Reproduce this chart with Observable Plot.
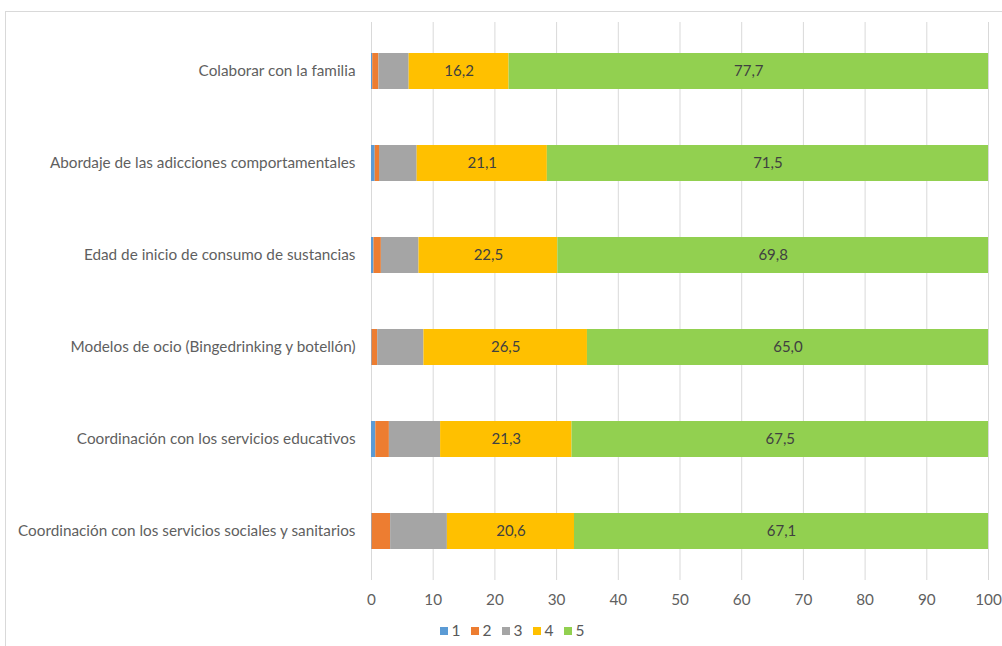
<!DOCTYPE html>
<html>
<head>
<meta charset="utf-8">
<script src="https://cdn.jsdelivr.net/npm/d3@7"></script>
<script src="https://cdn.jsdelivr.net/npm/@observablehq/plot@0.6"></script>
<style>
  html, body { margin: 0; padding: 0; background: #fff; }
  body { width: 1002px; height: 646px; position: relative; overflow: hidden; font-family: Lato, "Open Sans", sans-serif; }
  #frame { position: absolute; left: 5px; top: 11px; width: 1010px; height: 650px; border: 1px solid #d9d9d9; box-sizing: border-box; pointer-events: none; }
  #chart { position: absolute; left: 0; top: 0; }
  #legend { position: absolute; left: 0; top: 621px; width: 1002px; text-align: center; font-size: 15.5px; color: #595959; padding-left: 22px; box-sizing: border-box; }
  #legend span.item { display: inline-block; margin: 0 5px; }
  #legend span.sw { display: inline-block; width: 8px; height: 8px; margin-right: 4px; vertical-align: 1px; }
</style>
</head>
<body>
<div id="chart"></div>
<div id="legend"></div>
<div id="frame"></div>
<script>
const categories = [
  "Colaborar con la familia",
  "Abordaje de las adicciones comportamentales",
  "Edad de inicio de consumo de sustancias",
  "Modelos de ocio (Bingedrinking y botellón)",
  "Coordinación con los servicios educativos",
  "Coordinación con los servicios sociales y sanitarios"
];
const seriesNames = ["1", "2", "3", "4", "5"];
const v1 = [0.2, 0.6, 0.4, 0.1, 0.7, 0.1];
const v2 = [1.0, 0.7, 1.2, 0.9, 2.2, 3.0];
const v3 = [4.9, 6.1, 6.1, 7.5, 8.3, 9.2];
const v4 = [16.2, 21.1, 22.5, 26.5, 21.3, 20.6];
const v5 = [77.7, 71.5, 69.8, 65.0, 67.5, 67.1];
const xTicks = [0, 10, 20, 30, 40, 50, 60, 70, 80, 90, 100];
const colors = ["#5b9bd5", "#ed7d31", "#a5a5a5", "#ffc000", "#92d050"];

const seriesValues = [v1, v2, v3, v4, v5];
const data = [];
seriesNames.forEach((s, si) => {
  categories.forEach((c, ci) => {
    data.push({cat: c, series: s, value: seriesValues[si][ci]});
  });
});
const fmt = v => v.toFixed(1).replace(".", ",");

const plot = Plot.plot({
  width: 1002,
  height: 620,
  marginLeft: 371,
  marginRight: 14,
  marginTop: 22,
  marginBottom: 40,
  style: {fontFamily: "Lato, 'Open Sans', sans-serif", fontSize: "15.3px", color: "#5f5f5f", background: "transparent"},
  x: {domain: [0, 100], ticks: xTicks, label: null},
  y: {domain: categories, label: null, paddingInner: 0.61, paddingOuter: 0.32},
  color: {domain: seriesNames, range: colors},
  marks: [
    Plot.gridX(xTicks, {stroke: "#d9d9d9", strokeOpacity: 1, strokeWidth: 1}),
    Plot.barX(data, Plot.stackX({x: "value", y: "cat", z: "series", fill: "series"})),
    Plot.text(data, Plot.stackX({x: "value", y: "cat", z: "series", text: d => (d.series === "4" || d.series === "5") ? fmt(d.value) : null, fill: "#404040", fontSize: 15})),
    Plot.axisX({ticks: xTicks, tickSize: 0, tickPadding: 14, tickFormat: d => String(d), fill: "#5f5f5f", label: null}),
    Plot.axisY({tickSize: 0, tickPadding: 16, fill: "#5f5f5f", label: null})
  ]
});
document.getElementById("chart").appendChild(plot);

const legend = document.getElementById("legend");
seriesNames.forEach((s, i) => {
  const item = document.createElement("span");
  item.className = "item";
  const sw = document.createElement("span");
  sw.className = "sw";
  sw.style.background = colors[i];
  item.appendChild(sw);
  item.appendChild(document.createTextNode(s));
  legend.appendChild(item);
});
</script>
</body>
</html>
